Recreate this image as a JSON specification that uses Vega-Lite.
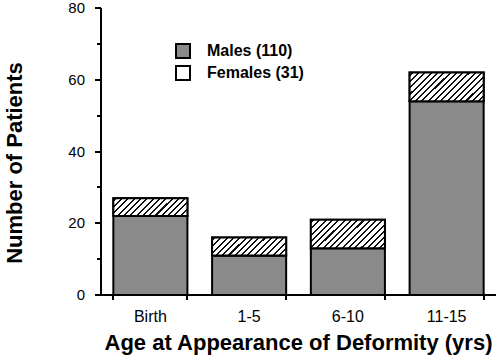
{
  "$schema": "https://vega.github.io/schema/vega-lite/v6.json",
  "width": 395,
  "height": 287,
  "autosize": "none",
  "padding": {"left": 101, "top": 8, "right": 4, "bottom": 64},
  "config": {"view": {"stroke": null}, "font": "Liberation Sans", "axis": {"translate": 0}},
  "data": {
    "values": [
      {"age": "Birth", "sex": "Males", "count": 22},
      {"age": "Birth", "sex": "Females", "count": 5},
      {"age": "1-5", "sex": "Males", "count": 11},
      {"age": "1-5", "sex": "Females", "count": 5},
      {"age": "6-10", "sex": "Males", "count": 13},
      {"age": "6-10", "sex": "Females", "count": 8},
      {"age": "11-15", "sex": "Males", "count": 54},
      {"age": "11-15", "sex": "Females", "count": 8}
    ]
  },
  "transform": [
    {"stack": "count", "groupby": ["age"], "sort": [{"field": "sex", "order": "descending"}], "as": ["y0", "y1"]}
  ],
  "encoding": {
    "x": {
      "field": "age", "type": "nominal", "sort": ["Birth", "1-5", "6-10", "11-15"],
      "scale": {"paddingInner": 0.25, "paddingOuter": 0.125},
      "axis": {
        "title": "Age at Appearance of Deformity (yrs)", "labelAngle": 0, "tickBand": "extent",
        "domainColor": "black", "domainWidth": 2, "tickColor": "black", "tickWidth": 2, "tickSize": 5,
        "labelFontSize": 16, "labelColor": "black", "labelPadding": 9,
        "titleFontSize": 22, "titleFontWeight": "bold", "titleColor": "black", "titlePadding": 8
      }
    },
    "y": {
      "field": "y1", "type": "quantitative",
      "scale": {"domain": [0, 80], "nice": false},
      "axis": {
        "title": "Number of Patients", "grid": false,
        "values": [0, 10, 20, 30, 40, 50, 60, 70, 80],
        "labelExpr": "datum.value % 20 === 0 ? datum.label : ''",
        "domainColor": "black", "domainWidth": 2, "tickColor": "black", "tickWidth": 2,
        "tickSize": {"condition": {"test": "datum.value % 20 === 0", "value": 6}, "value": 4},
        "labelFontSize": 15, "labelColor": "black", "labelPadding": 10,
        "titleFontSize": 22, "titleFontWeight": "bold", "titleColor": "black", "titlePadding": 41, "titleY": 155
      }
    },
    "y2": {"field": "y0"}
  },
  "layer": [
    {
      "mark": {"type": "bar", "stroke": "black", "strokeWidth": 2},
      "encoding": {
        "fill": {
          "field": "sex", "type": "nominal",
          "scale": {"domain": ["Males", "Females"], "range": ["#8a8a8a", "#ffffff"]},
          "legend": {
            "title": null, "orient": "none", "legendX": 74, "legendY": 35, "padding": 0,
            "symbolSize": 196, "symbolStrokeColor": "black", "symbolStrokeWidth": 2,
            "labelFontSize": 16, "labelFontWeight": "bold", "labelColor": "black", "labelOffset": 16,
            "rowPadding": 0, "labelExpr": "datum.label === 'Males' ? 'Males (110)' : 'Females (31)'",
            "encode": {
              "symbols": {
                "update": {
                  "shape": {
                    "condition": {"test": "datum.value === 'Females'", "value": "M-1,-1H1V1H-1Z M-1,0.45L0.45,-1 M-0.45,1L1,-0.45"},
                    "value": "square"
                  },
                  "stroke": {"value": "black"},
                  "strokeWidth": {"value": 2}
                }
              }
            }
          }
        }
      }
    },
    {
      "transform": [{"filter": "datum.sex === 'Females'"}],
      "mark": {"type": "bar", "stroke": "black", "strokeWidth": 2},
      "encoding": {
        "fill": {
          "condition": {
            "test": "datum.age === 'Birth' || datum.age === '1-5'",
            "value": {"gradient": "linear", "x1": 0, "y1": 0, "x2": 1.174, "y2": 0.286, "stops": [
              {"offset": 0, "color": "#fff"},
              {"offset": 0.0200, "color": "#fff"}, {"offset": 0.0200, "color": "#111"}, {"offset": 0.0426, "color": "#111"}, {"offset": 0.0426, "color": "#fff"},
              {"offset": 0.0884, "color": "#fff"}, {"offset": 0.0884, "color": "#111"}, {"offset": 0.1110, "color": "#111"}, {"offset": 0.1110, "color": "#fff"},
              {"offset": 0.1568, "color": "#fff"}, {"offset": 0.1568, "color": "#111"}, {"offset": 0.1794, "color": "#111"}, {"offset": 0.1794, "color": "#fff"},
              {"offset": 0.2252, "color": "#fff"}, {"offset": 0.2252, "color": "#111"}, {"offset": 0.2478, "color": "#111"}, {"offset": 0.2478, "color": "#fff"},
              {"offset": 0.2936, "color": "#fff"}, {"offset": 0.2936, "color": "#111"}, {"offset": 0.3162, "color": "#111"}, {"offset": 0.3162, "color": "#fff"},
              {"offset": 0.3620, "color": "#fff"}, {"offset": 0.3620, "color": "#111"}, {"offset": 0.3846, "color": "#111"}, {"offset": 0.3846, "color": "#fff"},
              {"offset": 0.4304, "color": "#fff"}, {"offset": 0.4304, "color": "#111"}, {"offset": 0.4530, "color": "#111"}, {"offset": 0.4530, "color": "#fff"},
              {"offset": 0.4988, "color": "#fff"}, {"offset": 0.4988, "color": "#111"}, {"offset": 0.5214, "color": "#111"}, {"offset": 0.5214, "color": "#fff"},
              {"offset": 0.5672, "color": "#fff"}, {"offset": 0.5672, "color": "#111"}, {"offset": 0.5898, "color": "#111"}, {"offset": 0.5898, "color": "#fff"},
              {"offset": 0.6356, "color": "#fff"}, {"offset": 0.6356, "color": "#111"}, {"offset": 0.6582, "color": "#111"}, {"offset": 0.6582, "color": "#fff"},
              {"offset": 0.7040, "color": "#fff"}, {"offset": 0.7040, "color": "#111"}, {"offset": 0.7266, "color": "#111"}, {"offset": 0.7266, "color": "#fff"},
              {"offset": 0.7724, "color": "#fff"}, {"offset": 0.7724, "color": "#111"}, {"offset": 0.7950, "color": "#111"}, {"offset": 0.7950, "color": "#fff"},
              {"offset": 0.8408, "color": "#fff"}, {"offset": 0.8408, "color": "#111"}, {"offset": 0.8634, "color": "#111"}, {"offset": 0.8634, "color": "#fff"},
              {"offset": 0.9092, "color": "#fff"}, {"offset": 0.9092, "color": "#111"}, {"offset": 0.9318, "color": "#111"}, {"offset": 0.9318, "color": "#fff"},
              {"offset": 0.9776, "color": "#fff"}, {"offset": 0.9776, "color": "#111"}, {"offset": 1, "color": "#111"}
            ]}
          },
          "value": {"gradient": "linear", "x1": 0, "y1": 0, "x2": 1.2065, "y2": 0.4708, "stops": [
            {"offset": 0, "color": "#fff"},
            {"offset": 0.0200, "color": "#fff"}, {"offset": 0.0200, "color": "#111"}, {"offset": 0.0402, "color": "#111"}, {"offset": 0.0402, "color": "#fff"},
            {"offset": 0.0812, "color": "#fff"}, {"offset": 0.0812, "color": "#111"}, {"offset": 0.1014, "color": "#111"}, {"offset": 0.1014, "color": "#fff"},
            {"offset": 0.1424, "color": "#fff"}, {"offset": 0.1424, "color": "#111"}, {"offset": 0.1626, "color": "#111"}, {"offset": 0.1626, "color": "#fff"},
            {"offset": 0.2036, "color": "#fff"}, {"offset": 0.2036, "color": "#111"}, {"offset": 0.2238, "color": "#111"}, {"offset": 0.2238, "color": "#fff"},
            {"offset": 0.2648, "color": "#fff"}, {"offset": 0.2648, "color": "#111"}, {"offset": 0.2850, "color": "#111"}, {"offset": 0.2850, "color": "#fff"},
            {"offset": 0.3260, "color": "#fff"}, {"offset": 0.3260, "color": "#111"}, {"offset": 0.3462, "color": "#111"}, {"offset": 0.3462, "color": "#fff"},
            {"offset": 0.3872, "color": "#fff"}, {"offset": 0.3872, "color": "#111"}, {"offset": 0.4074, "color": "#111"}, {"offset": 0.4074, "color": "#fff"},
            {"offset": 0.4484, "color": "#fff"}, {"offset": 0.4484, "color": "#111"}, {"offset": 0.4686, "color": "#111"}, {"offset": 0.4686, "color": "#fff"},
            {"offset": 0.5096, "color": "#fff"}, {"offset": 0.5096, "color": "#111"}, {"offset": 0.5298, "color": "#111"}, {"offset": 0.5298, "color": "#fff"},
            {"offset": 0.5708, "color": "#fff"}, {"offset": 0.5708, "color": "#111"}, {"offset": 0.5910, "color": "#111"}, {"offset": 0.5910, "color": "#fff"},
            {"offset": 0.6320, "color": "#fff"}, {"offset": 0.6320, "color": "#111"}, {"offset": 0.6522, "color": "#111"}, {"offset": 0.6522, "color": "#fff"},
            {"offset": 0.6932, "color": "#fff"}, {"offset": 0.6932, "color": "#111"}, {"offset": 0.7134, "color": "#111"}, {"offset": 0.7134, "color": "#fff"},
            {"offset": 0.7544, "color": "#fff"}, {"offset": 0.7544, "color": "#111"}, {"offset": 0.7746, "color": "#111"}, {"offset": 0.7746, "color": "#fff"},
            {"offset": 0.8156, "color": "#fff"}, {"offset": 0.8156, "color": "#111"}, {"offset": 0.8358, "color": "#111"}, {"offset": 0.8358, "color": "#fff"},
            {"offset": 0.8768, "color": "#fff"}, {"offset": 0.8768, "color": "#111"}, {"offset": 0.8970, "color": "#111"}, {"offset": 0.8970, "color": "#fff"},
            {"offset": 0.9380, "color": "#fff"}, {"offset": 0.9380, "color": "#111"}, {"offset": 0.9582, "color": "#111"}, {"offset": 0.9582, "color": "#fff"},
            {"offset": 1, "color": "#fff"}
          ]}
        }
      }
    }
  ]
}
